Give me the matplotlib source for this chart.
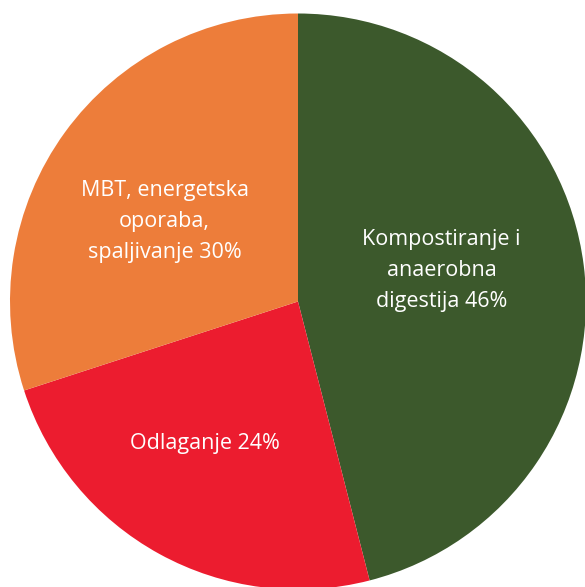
import numpy as np
from matplotlib import pyplot as plt

LABELS = ["Kompostiranje i\nanaerobna\ndigestija 46%",
          "Odlaganje 24%",
          "MBT, energetska\noporaba,\nspaljivanje 30%"]
SHARES = [46, 24, 30]
COLORS = ["#3C592C", "#EC1C2F", "#ED7D3A"]

# label placement as fraction of radius, plus a small angle nudge (degrees)
LABEL_R = [0.51, 0.59, 0.54]
LABEL_DA = [5.0, -4.5, 5.0]


def main():
    fig = plt.figure(figsize=(5.85, 5.87), dpi=100)
    ax = fig.add_axes([0, 0, 1, 1])
    cx, cy, radius = 298, 587 - 301.5, 288
    wedges, _ = ax.pie(SHARES, colors=COLORS, startangle=90, counterclock=False,
                       center=(cx, cy), radius=radius,
                       wedgeprops=dict(linewidth=0))
    for wedge, label, frac, nudge in zip(wedges, LABELS, LABEL_R, LABEL_DA):
        ang = np.deg2rad((wedge.theta1 + wedge.theta2) / 2 + nudge)
        x = cx + frac * radius * np.cos(ang)
        y = cy + frac * radius * np.sin(ang)
        ax.text(x, y, label, ha="center", va="center", color="white",
                fontsize=15.5, family="Open Sans", linespacing=1.6)
    ax.set_xlim(0, 585)
    ax.set_ylim(0, 587)
    ax.set_aspect("equal")
    ax.axis("off")
    fig.savefig("out.png", dpi=100, facecolor="white")


main()
